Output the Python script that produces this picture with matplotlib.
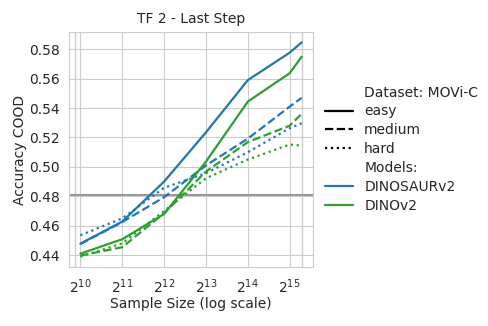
import matplotlib
matplotlib.use("Agg")
import matplotlib.pyplot as plt
import seaborn as sns
from matplotlib.lines import Line2D

sns.set_style("whitegrid")
plt.rcParams['font.family'] = ['DejaVu Sans']

sample_sizes = [1024, 2048, 4096, 8192, 16384, 32768, 40000]
tick_positions = [2**10, 2**11, 2**12, 2**13, 2**14, 2**15]

# DINOSAURv2
dinosaur_easy = [0.4478, 0.4628, 0.4900, 0.5235, 0.5590, 0.5777, 0.5847]
dinosaur_medium = [0.4475, 0.4625, 0.4794, 0.5010, 0.5192, 0.5410, 0.5470]
dinosaur_hard = [0.4535, 0.4650, 0.4858, 0.4957, 0.5100, 0.5263, 0.5297]
# DINOv2
dino_easy = [0.4410, 0.4508, 0.4680, 0.5036, 0.5444, 0.5637, 0.5750]
dino_medium = [0.4397, 0.4454, 0.4685, 0.4968, 0.5169, 0.5280, 0.5362]
dino_hard = [0.4390, 0.4480, 0.4700, 0.4923, 0.5050, 0.5152, 0.5145]

baseline = 0.481
extra_grid_x = [930, 40000]

blue = "#1f77b4"
green = "#2ca02c"

fig = plt.figure(figsize=(4.88, 3.26), dpi=100)
ax = fig.add_axes([0.142, 0.18, 0.499, 0.723])

ax.plot(sample_sizes, dinosaur_easy, color=blue, linestyle="-", lw=1.6)
ax.plot(sample_sizes, dinosaur_medium, color=blue, linestyle="--", lw=1.6)
ax.plot(sample_sizes, dinosaur_hard, color=blue, linestyle=":", lw=1.6)
ax.plot(sample_sizes, dino_easy, color=green, linestyle="-", lw=1.6)
ax.plot(sample_sizes, dino_medium, color=green, linestyle="--", lw=1.6)
ax.plot(sample_sizes, dino_hard, color=green, linestyle=":", lw=1.6)
ax.axhline(baseline, color="#999999", lw=1.5, zorder=1)

ax.set_xscale("log", base=2)
ax.set_xticks(tick_positions)
ax.set_xticks(extra_grid_x, minor=True)
ax.set_xticklabels([], minor=True)
ax.grid(True, which="minor", axis="x", color=".8", lw=1)
ax.set_yticks([0.44, 0.46, 0.48, 0.50, 0.52, 0.54, 0.56, 0.58])

ax.set_title("TF 2 - Last Step", fontsize=10)
ax.set_xlabel("Sample Size (log scale)", fontsize=10, labelpad=1)
ax.set_ylabel("Accuracy COOD", fontsize=10, labelpad=1)
ax.tick_params(labelsize=10)

blank = Line2D([], [], color="none")
handles = [
    blank,
    Line2D([], [], color="black", linestyle="-", lw=1.6),
    Line2D([], [], color="black", linestyle="--", lw=1.6),
    Line2D([], [], color="black", linestyle=":", lw=1.6),
    blank,
    Line2D([], [], color=blue, lw=1.6),
    Line2D([], [], color=green, lw=1.6),
]
labels = ["Dataset: MOVi-C", "easy", "medium", "hard", "Models:", "DINOSAURv2", "DINOv2"]
fig.legend(handles, labels, loc="upper left", bbox_to_anchor=(0.641, 0.776),
           frameon=False, fontsize=10, labelspacing=0.35)

fig.savefig("out.png", dpi=100)
